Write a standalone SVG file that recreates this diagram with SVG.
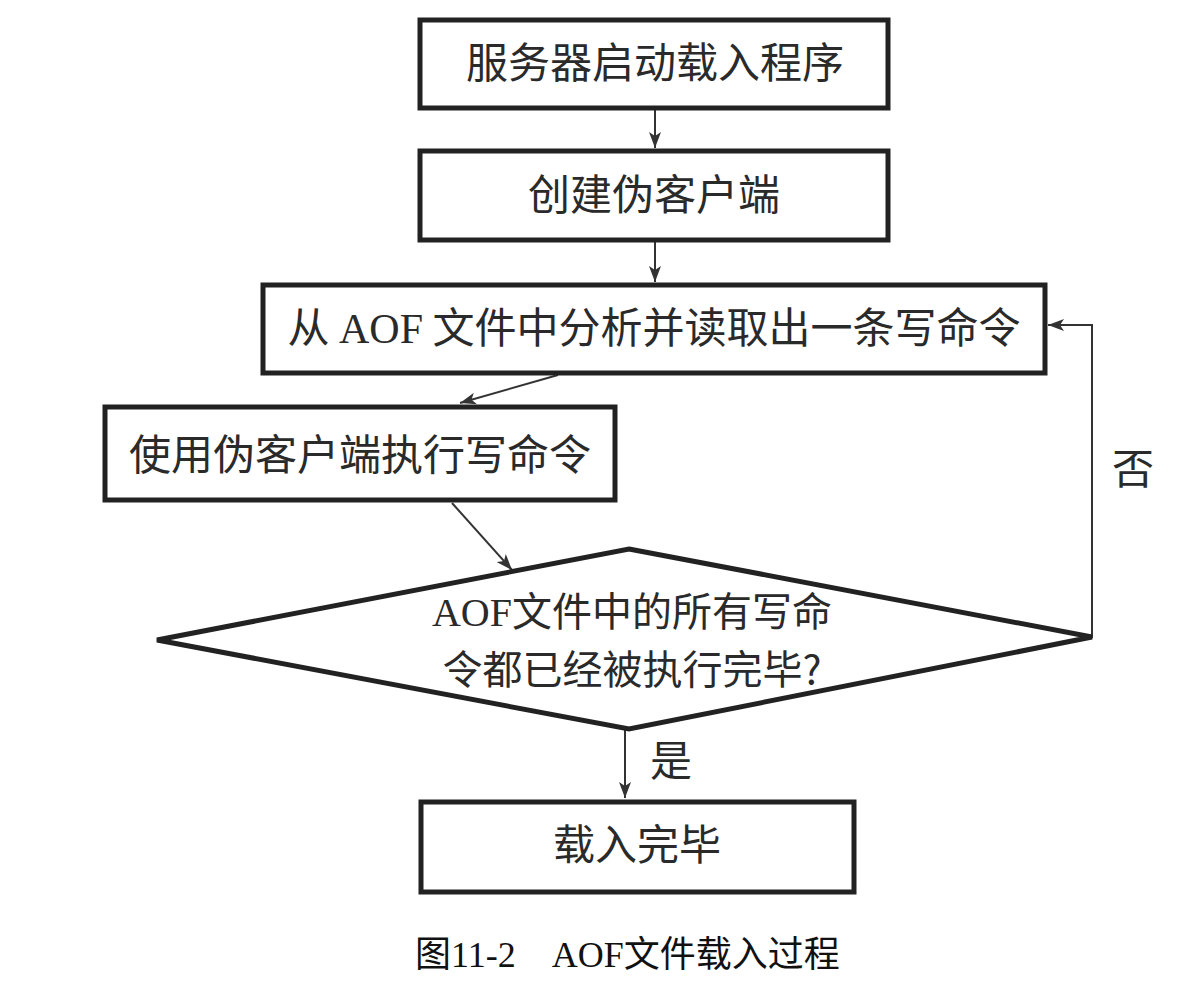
<svg xmlns="http://www.w3.org/2000/svg" width="1192" height="986" viewBox="0 0 1192 986">
<style>
.box{fill:#fff;stroke:#222;stroke-width:5}
.t{font-family:"Noto Sans CJK SC",sans-serif;font-size:42px;fill:#2a2a2a;text-anchor:middle}
.d{font-size:40px}
.lat{font-family:"Liberation Serif",serif}
.c{stroke:#333;stroke-width:2;fill:none}
.cap{font-family:"Liberation Serif","Noto Sans CJK SC",serif;font-size:36px;fill:#111}
</style>
<defs>
<marker id="ah" viewBox="0 0 16 12" refX="16" refY="6" markerWidth="16" markerHeight="12" markerUnits="userSpaceOnUse" orient="auto">
<path d="M0,0 L16,6 L0,12 L4,6 z" fill="#333"/>
</marker>
</defs>
<rect width="1192" height="986" fill="#fff"/>
<g id="connectors">
<line class="c" x1="655" y1="110" x2="655" y2="148" marker-end="url(#ah)"/>
<line class="c" x1="655" y1="240" x2="655" y2="282" marker-end="url(#ah)"/>
<line class="c" x1="558" y1="375" x2="460" y2="403" marker-end="url(#ah)"/>
<line class="c" x1="452" y1="503" x2="512" y2="570" marker-end="url(#ah)"/>
<line class="c" x1="625" y1="730" x2="625" y2="798" marker-end="url(#ah)"/>
<polyline class="c" points="1090,637 1092,637 1092,325 1048,325" marker-end="url(#ah)"/>
</g>
<g id="n1"><rect class="box" x="420" y="20" width="468" height="88"/><text class="t" x="655" y="78">服务器启动载入程序</text></g>
<g id="n2"><rect class="box" x="420" y="151" width="468" height="89"/><text class="t" x="654" y="210">创建伪客户端</text></g>
<g id="n3"><rect class="box" x="263" y="285" width="782" height="88"/><text class="t" x="654" y="343">从 <tspan class="lat">AOF</tspan> 文件中分析并读取出一条写命令</text></g>
<g id="n4"><rect class="box" x="105" y="407" width="510" height="93"/><text class="t" x="360" y="470">使用伪客户端执行写命令</text></g>
<g id="n5"><polygon class="box" points="629,549 1092,637 629,729 157,640"/><text class="t d" x="632" y="626"><tspan class="lat">AOF</tspan>文件中的所有写命</text><text class="t d" x="632" y="684">令都已经被执行完毕?</text></g>
<g id="n6"><rect class="box" x="421" y="802" width="433" height="90"/><text class="t" x="637" y="860">载入完毕</text></g>
<text class="t" x="671" y="776">是</text>
<text class="t" x="1133" y="484">否</text>
<text class="cap" x="415" y="967">图11-2　AOF文件载入过程</text>
</svg>
